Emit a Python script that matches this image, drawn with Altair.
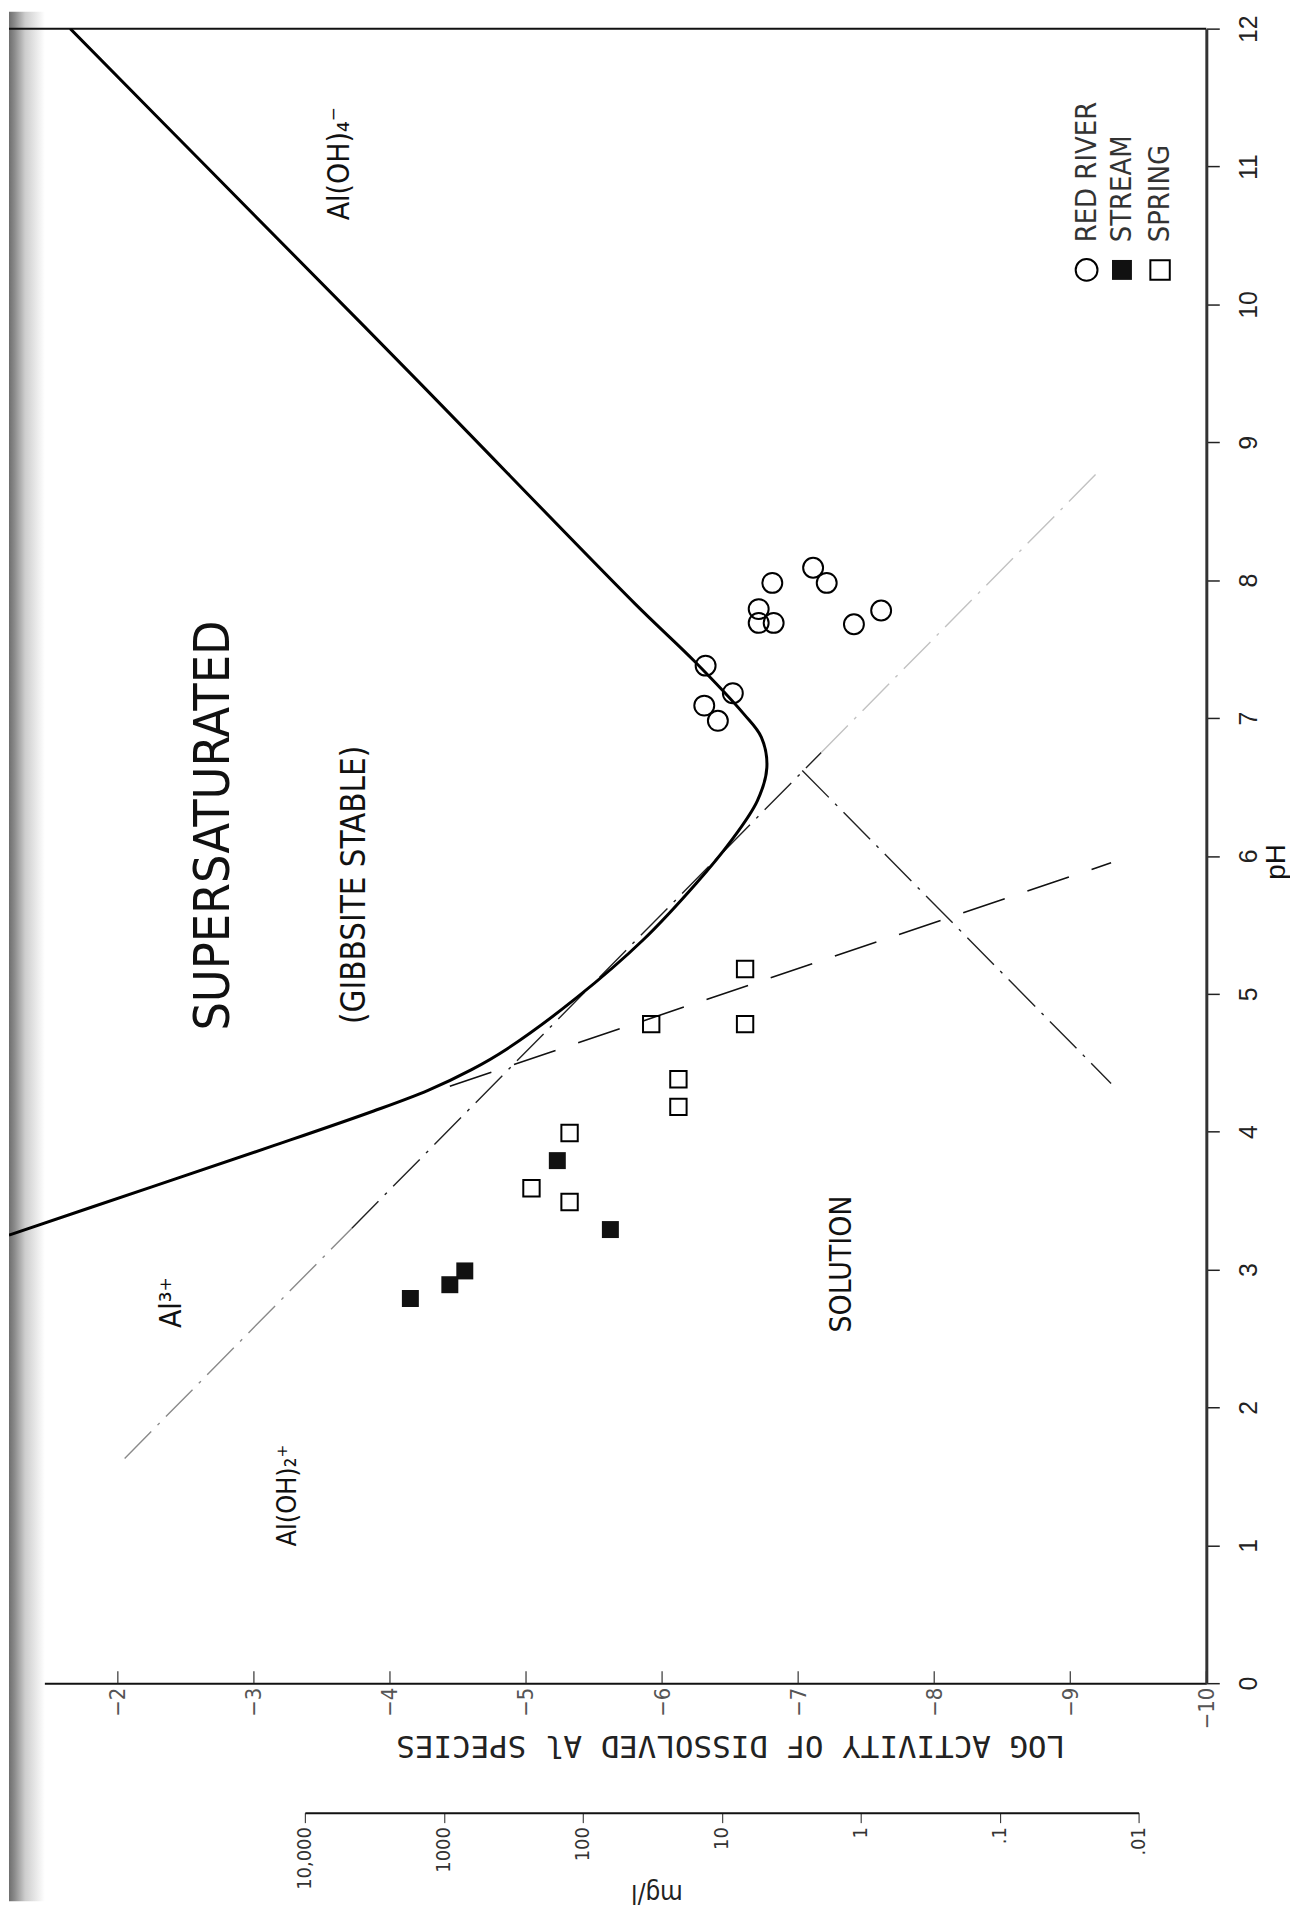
import altair as alt
import pandas as pd

FONT = "Liberation Sans Narrow, Arial Narrow, DejaVu Sans Condensed, Roboto Condensed, Liberation Sans, sans-serif"
MONO = "DejaVu Sans Mono, Liberation Mono, monospace"

# ---------------- data ----------------
# total dissolved Al in equilibrium with gibbsite (solid curve)
curve_ph = [3.25, 3.60, 3.90, 4.15, 4.30, 4.45, 4.60, 4.97, 5.39, 5.80, 6.10, 6.40, 6.64, 6.86, 7.03, 7.41, 7.83, 9.50, 11.00, 12.0]
curve_log = [-1.20, -2.25, -3.15, -3.88, -4.28, -4.60, -4.86, -5.37, -5.86, -6.25, -6.50, -6.70, -6.77, -6.73, -6.60, -6.24, -5.80, -4.15, -2.65, -1.65]

# Al3+ extension (long dashes)
al3_ph = [4.33, 5.95]
al3_log = [-4.44, -9.30]

# Al(OH)2+ line (dash-dot), three printed tones
aloh2_ph = [1.63, 3.30, 3.30, 6.75, 6.75, 8.80]
aloh2_log = [-2.05, -3.72, -3.72, -7.17, -7.17, -9.22]
aloh2_part = ["a", "a", "b", "b", "c", "c"]

# Al(OH)4- extension (dash-dot)
aloh4_ph = [6.62, 4.35]
aloh4_log = [-7.03, -9.30]

# samples
river_ph = [7.98, 8.09, 7.98, 7.79, 7.69, 7.69, 7.68, 7.78, 7.38, 7.18, 7.09, 6.98]
river_log = [-6.81, -7.11, -7.21, -6.71, -6.71, -6.82, -7.41, -7.61, -6.32, -6.52, -6.31, -6.41]
stream_ph = [3.79, 3.29, 2.99, 2.89, 2.79]
stream_log = [-5.23, -5.62, -4.55, -4.44, -4.15]
spring_ph = [5.18, 4.78, 4.78, 4.38, 4.18, 3.99, 3.59, 3.49]
spring_log = [-6.61, -5.92, -6.61, -6.12, -6.12, -5.32, -5.04, -5.32]

# annotations
ann_text = ["SUPERSATURATED", "(GIBBSITE STABLE)", "SOLUTION", "Al(OH)\u2084\u207b", "Al\u00b3\u207a", "Al(OH)\u2082\u207a"]
ann_log = [-2.71, -3.745, -7.32, -3.63, -2.40, -3.25]
ann_ph = [6.22, 5.79, 3.04, 11.02, 2.76, 1.36]
ann_size = [50, 33, 30, 30, 30, 27]

# legend
legend_labels = ["RED RIVER", "STREAM", "SPRING"]
legend_log = [-9.12, -9.38, -9.66]
legend_mark_ph = [10.25, 10.25, 10.25]
legend_text_ph = [10.45, 10.45, 10.45]

# axes
ph_ticks = list(range(0, 13))
log_ticks = [-2, -3, -4, -5, -6, -7, -8, -9, -10]
mg_values = [10000, 1000, 100, 10, 1, 0.1, 0.01]
mg_labels = ["10,000", "1000", "100", "10", "1", ".1", ".01"]
frame_top = [12]

# ---------------- chart ----------------
W, H = 1202, 1661

xscale = alt.Scale(domain=[-10, -1.2], reverse=True, nice=False, zero=False)
yscale = alt.Scale(domain=[0, 12], nice=False, zero=False)

X = alt.X("L:Q", scale=xscale, axis=alt.Axis(
    values=log_ticks, labelAngle=270, labelAlign="right", labelBaseline="middle",
    labelPadding=4, labelFontSize=22, labelFont=FONT, labelColor="#555555",
    tickSize=0, domainWidth=2, domainColor="#111111", grid=False,
    title="LOG ACTIVITY OF DISSOLVED Al SPECIES", titleAngle=180, titleX=724, titleY=62,
    titleAlign="center", titleBaseline="middle", titleFontSize=31, titleFont=MONO,
    titleFontWeight="normal", titleColor="#222222"))
Y = alt.Y("pH:Q", scale=yscale, axis=alt.Axis(
    orient="right", values=ph_ticks, labelAngle=270, labelAlign="center", labelBaseline="top",
    labelPadding=17, labelFontSize=25, labelFont="Liberation Sans, Arial, sans-serif", labelColor="#222222",
    tickSize=13, tickWidth=1.5, tickColor="#222222", domainWidth=3, domainColor="#333333",
    grid=False, title="pH", titleAngle=270, titleX=70, titleY=836, titleAlign="center",
    titleBaseline="middle", titleFontSize=28, titleFont="Liberation Sans, Arial, sans-serif",
    titleFontWeight="normal", titleColor="#111111"))


def df_xy(ph, lg, **extra):
    d = {"pH": ph, "L": lg, "i": list(range(len(ph)))}
    d.update(extra)
    return pd.DataFrame(d)


band = alt.Chart(pd.DataFrame({"k": [0]})).mark_rect(
    color=alt.Gradient(gradient="linear", x1=0, x2=1, y1=0, y2=0,
                       stops=[alt.GradientStop(color="#6e6e6e", offset=0),
                              alt.GradientStop(color="#8a8a8a", offset=0.15),
                              alt.GradientStop(color="#cdcdcd", offset=0.45),
                              alt.GradientStop(color="#ffffff", offset=1)])
).encode(x=alt.value(0), x2=alt.value(36), y=alt.value(-17), y2=alt.value(1880))

top_rule = alt.Chart(pd.DataFrame({"pH": frame_top})).mark_rule(
    color="#111111", strokeWidth=2).encode(y=Y)

tick_rules = alt.Chart(pd.DataFrame({"L": log_ticks})).mark_rule(
    color="#333333", strokeWidth=1.2).encode(x=X, y=alt.value(H), y2=alt.value(H - 12))

curve = alt.Chart(df_xy(curve_ph, curve_log)).mark_line(
    color="black", strokeWidth=3, clip=True, interpolate="catmull-rom").encode(x=X, y=Y, order="i:Q")

al3 = alt.Chart(df_xy(al3_ph, al3_log)).mark_line(
    color="#111111", strokeWidth=1.6, strokeDash=[44, 24], clip=True).encode(x=X, y=Y, order="i:Q")

aloh2 = alt.Chart(df_xy(aloh2_ph, aloh2_log, part=aloh2_part)).mark_line(
    strokeWidth=1.4, strokeDash=[38, 9, 3, 9], clip=True).encode(
    x=X, y=Y, order="i:Q", detail="part:N",
    color=alt.Color("part:N", scale=alt.Scale(domain=["a", "b", "c"], range=["#8a8a8a", "#222222", "#c2c2c2"]), legend=None))

aloh4 = alt.Chart(df_xy(aloh4_ph, aloh4_log)).mark_line(
    color="#222222", strokeWidth=1.4, strokeDash=[38, 9, 3, 9], clip=True).encode(x=X, y=Y, order="i:Q")

river = alt.Chart(df_xy(river_ph, river_log)).mark_point(
    shape="circle", filled=False, color="black", strokeWidth=2, size=400, opacity=1).encode(x=X, y=Y)
stream = alt.Chart(df_xy(stream_ph, stream_log)).mark_point(
    shape="square", filled=True, color="#111111", size=290, opacity=1).encode(x=X, y=Y)
spring = alt.Chart(df_xy(spring_ph, spring_log)).mark_point(
    shape="square", filled=False, color="black", strokeWidth=2, size=270, opacity=1).encode(x=X, y=Y)

ann = alt.Chart(pd.DataFrame({"t": ann_text, "L": ann_log, "pH": ann_ph, "fs": ann_size})).mark_text(
    angle=270, align="center", baseline="middle", font=FONT, color="#111111").encode(
    x=X, y=Y, text="t:N", size=alt.Size("fs:Q", scale=None))

leg_df = pd.DataFrame({"lab": legend_labels, "L": legend_log, "pH": legend_mark_ph})
leg_circle = alt.Chart(leg_df.iloc[[0]]).mark_point(
    shape="circle", filled=False, color="black", strokeWidth=2, size=480, opacity=1).encode(x=X, y=Y)
leg_fill = alt.Chart(leg_df.iloc[[1]]).mark_point(
    shape="square", filled=True, color="#111111", size=400, opacity=1).encode(x=X, y=Y)
leg_open = alt.Chart(leg_df.iloc[[2]]).mark_point(
    shape="square", filled=False, color="black", strokeWidth=2, size=380, opacity=1).encode(x=X, y=Y)
leg_tdf = pd.DataFrame({"lab": legend_labels, "L": legend_log, "pH": legend_text_ph})
leg_text = alt.Chart(leg_tdf).mark_text(
    angle=270, align="left", baseline="middle", font=FONT, fontSize=29, color="#333333").encode(
    x=X, y=Y, text="lab:N")

main = alt.layer(band, top_rule, tick_rules, aloh2, aloh4, al3, curve, river, stream, spring,
                 ann, leg_circle, leg_fill, leg_open, leg_text)

mg_expr = " : ".join(f"datum.value == {v} ? '{l}'" for v, l in zip(mg_values, mg_labels)) + " : ''"
mg_layer = alt.Chart(pd.DataFrame({"mg": mg_values})).mark_point(opacity=0).encode(
    x=alt.X("mg:Q", scale=alt.Scale(type="log", domain=[10000, 0.01], range=[297, 1134]),
            axis=alt.Axis(orient="bottom", offset=130, values=mg_values, labelExpr=mg_expr,
                          labelAngle=270, labelAlign="right", labelBaseline="middle",
                          labelPadding=4, labelFontSize=20, labelFont=FONT, labelColor="#333333",
                          tickSize=10, tickColor="#222222", domainWidth=2, domainColor="#111111",
                          grid=False, title="mg/l", titleAngle=180, titleX=650, titleY=80,
                          titleAlign="center", titleBaseline="middle", titleFontSize=26,
                          titleFont=FONT, titleFontWeight="normal", titleColor="#222222")),
    y=alt.value(0))

chart = alt.layer(main, mg_layer).resolve_scale(x="independent").properties(
    width=W, height=H, padding={"top": 0, "left": 0, "right": 0, "bottom": 4}
).configure_view(stroke=None)

chart.save("out.html", embed_options={"renderer": "svg", "actions": False})
